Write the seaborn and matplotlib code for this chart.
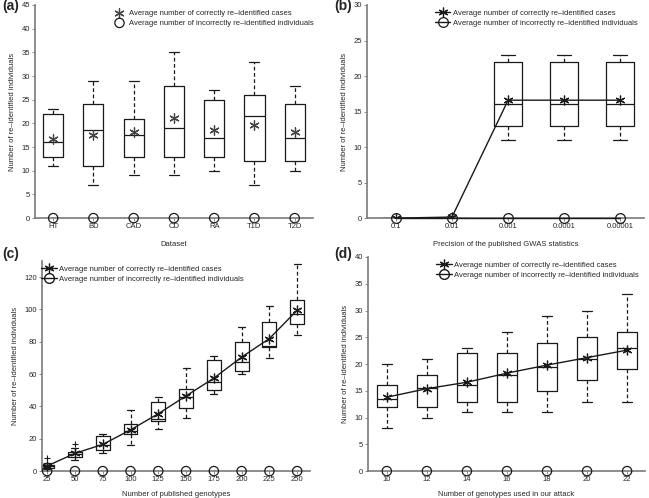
import numpy as np
import seaborn as sns
import matplotlib.pyplot as plt

sns.set_theme(style="ticks")
plt.rcParams['font.family'] = ['Liberation Sans', 'DejaVu Sans']

# (a) per dataset
a_labels = ['HT', 'BD', 'CAD', 'CD', 'RA', 'T1D', 'T2D']
a_whislo = [11, 7, 9, 9, 10, 7, 10]
a_q1 = [13, 11, 13, 13, 13, 12, 12]
a_med = [16, 18.5, 17.5, 19, 17, 21.5, 17]
a_q3 = [22, 24, 21, 28, 25, 26, 24]
a_whishi = [23, 29, 29, 35, 27, 33, 28]
a_mean = [16.7, 17.5, 18.1, 21.2, 18.6, 19.6, 18.1]
a_wrong = [0, 0, 0, 0, 0, 0, 0]

# (b) GWAS precision
b_labels = ['0.1', '0.01', '0.001', '0.0001', '0.00001']
b_whislo = [0, 0, 11, 11, 11]
b_q1 = [0, 0, 13, 13, 13]
b_med = [0, 0, 16, 16, 16]
b_q3 = [0, 0, 22, 22, 22]
b_whishi = [0, 0, 23, 23, 23]
b_mean = [0, 0.15, 16.6, 16.6, 16.6]
b_wrong = [0, 0, 0, 0, 0]

# (c) published genotypes
c_labels = ['25', '50', '75', '100', '125', '150', '175', '200', '225', '250']
c_whislo = [1, 7, 11, 16, 26, 33, 48, 60, 70, 84]
c_q1 = [2, 9, 13, 23, 31, 39, 50, 62, 77, 91]
c_med = [3, 10.5, 16, 25, 32, 46, 55, 67.5, 77.5, 97]
c_q3 = [4, 12, 22, 29, 43, 51, 69, 80, 92, 106]
c_whishi = [5, 14, 23, 38, 46, 64, 71, 89, 102, 128]
c_fliers = [[8], [17], [], [], [], [], [], [], [], []]
c_mean = [3.2, 11, 16.5, 25.5, 35.5, 46.5, 57.5, 70.5, 82, 99.5]
c_wrong = [0] * 10

# (d) genotypes used in attack
d_labels = ['10', '12', '14', '16', '18', '20', '22']
d_whislo = [8, 10, 11, 11, 11, 13, 13]
d_q1 = [12, 12, 13, 13, 15, 17, 19]
d_med = [13.5, 15.5, 16, 18, 19.5, 21, 23]
d_q3 = [16, 18, 22, 22, 24, 25, 26]
d_whishi = [20, 21, 23, 26, 29, 30, 33]
d_mean = [13.8, 15.4, 16.6, 18.3, 19.8, 21.2, 22.6]
d_wrong = [0] * 7

lbl_ok = 'Average number of correctly re\u2013identified cases'
lbl_bad = 'Average number of incorrectly re\u2013identified individuals'
ylab = 'Number of re\u2013identified individuals'
star = (6, 2, 0)
ink = '#1a1a1a'
spine_c = '#7a7a7a'


def boxes(ax, lo, q1, med, q3, hi, fliers=None):
    stats = []
    for i in range(len(lo)):
        stats.append(dict(whislo=lo[i], q1=q1[i], med=med[i], q3=q3[i], whishi=hi[i],
                          fliers=fliers[i] if fliers else []))
    ax.bxp(stats, positions=range(len(lo)), widths=0.5, showfliers=True,
           boxprops=dict(color=ink, lw=0.9),
           medianprops=dict(color=ink, lw=0.9),
           whiskerprops=dict(color=ink, lw=0.9, ls=(0, (3, 2))),
           capprops=dict(color=ink, lw=0.9),
           flierprops=dict(marker='+', markeredgecolor=ink, markersize=5, markeredgewidth=0.8))


def style(ax, labels, ymax, ystep, xlim, xlabel, pad):
    ax.set_xticks(range(len(labels)))
    ax.set_xticklabels(labels)
    ax.set_xlim(*xlim)
    ax.set_ylim(0, ymax)
    ax.set_yticks(np.arange(0, ymax + 0.1, ystep))
    sns.despine(ax=ax)
    for s in ('left', 'bottom'):
        ax.spines[s].set_color(spine_c)
        ax.spines[s].set_linewidth(1.2)
    ax.tick_params(labelsize=5.5, length=2, width=0.6, color=spine_c, pad=1.5)
    ax.set_xlabel(xlabel, fontsize=5.5, labelpad=pad)
    ax.set_ylabel(ylab, fontsize=5.5, labelpad=4)


fig = plt.figure(figsize=(6.49, 4.98), dpi=100)
ax_a = fig.add_axes([0.054, 0.562, 0.428, 0.428])
ax_b = fig.add_axes([0.565, 0.562, 0.428, 0.428])
ax_c = fig.add_axes([0.065, 0.054, 0.413, 0.422])
ax_d = fig.add_axes([0.567, 0.054, 0.427, 0.430])

# (a)
boxes(ax_a, a_whislo, a_q1, a_med, a_q3, a_whishi)
xa = np.arange(len(a_labels))
sns.scatterplot(x=xa, y=a_mean, ax=ax_a, marker=star, s=45, color='#444444', linewidth=0.9,
                label=lbl_ok, zorder=4)
sns.scatterplot(x=xa, y=a_wrong, ax=ax_a, marker='o', s=45, facecolor='none', edgecolor=ink,
                linewidth=0.9, label=lbl_bad, zorder=5, clip_on=False)
style(ax_a, a_labels, 45, 5, (-0.45, 6.45), 'Dataset', 8)

# (b)
boxes(ax_b, b_whislo, b_q1, b_med, b_q3, b_whishi)
xb = np.arange(len(b_labels))
sns.lineplot(x=xb, y=b_mean, ax=ax_b, color=ink, lw=1.0, marker=star, markersize=7,
             markeredgecolor=ink, markeredgewidth=0.9, label=lbl_ok, zorder=4)
sns.lineplot(x=xb, y=b_wrong, ax=ax_b, color=ink, lw=1.0, marker='o', markersize=7,
             markerfacecolor='none', markeredgecolor=ink, markeredgewidth=0.9,
             label=lbl_bad, zorder=5, clip_on=False)
style(ax_b, b_labels, 30, 5, (-0.52, 4.43), 'Precision of the published GWAS statistics', 8)

# (c)
boxes(ax_c, c_whislo, c_q1, c_med, c_q3, c_whishi, c_fliers)
xc = np.arange(len(c_labels))
sns.lineplot(x=xc, y=c_mean, ax=ax_c, color=ink, lw=1.0, marker=star, markersize=7,
             markeredgecolor=ink, markeredgewidth=0.9, label=lbl_ok, zorder=4)
sns.scatterplot(x=xc, y=c_wrong, ax=ax_c, marker='o', s=45, facecolor='none', edgecolor=ink,
                linewidth=0.9, zorder=5, clip_on=False)
ax_c.plot([], [], color=ink, lw=1.0, marker='o', markersize=7, markerfacecolor='none',
          markeredgecolor=ink, label=lbl_bad)
style(ax_c, c_labels, 130, 20, (-0.18, 9.47), 'Number of published genotypes', 6)

# (d)
boxes(ax_d, d_whislo, d_q1, d_med, d_q3, d_whishi)
xd = np.arange(len(d_labels))
sns.lineplot(x=xd, y=d_mean, ax=ax_d, color=ink, lw=1.0, marker=star, markersize=7,
             markeredgecolor=ink, markeredgewidth=0.9, label=lbl_ok, zorder=4)
sns.scatterplot(x=xd, y=d_wrong, ax=ax_d, marker='o', s=45, facecolor='none', edgecolor=ink,
                linewidth=0.9, zorder=5, clip_on=False)
ax_d.plot([], [], color=ink, lw=1.0, marker='o', markersize=7, markerfacecolor='none',
          markeredgecolor=ink, label=lbl_bad)
style(ax_d, d_labels, 40, 5, (-0.47, 6.45), 'Number of genotypes used in our attack', 6)

legend_pos = {ax_a: (0.26, 1.0), ax_b: (0.23, 1.0), ax_c: (-0.02, 1.0), ax_d: (0.23, 1.0)}
for ax, (lx, ly) in legend_pos.items():
    ax.legend(loc='upper left', bbox_to_anchor=(lx, ly), frameon=False, fontsize=5.5,
              handlelength=2.0, handletextpad=0.3, labelspacing=0.35, borderaxespad=0.2)

# panel tags
for tx, ty, tag in [(0.003, 0.988, '(a)'), (0.515, 0.988, '(b)'),
                    (0.003, 0.49, '(c)'), (0.515, 0.49, '(d)')]:
    fig.text(tx, ty, tag, fontsize=10, fontweight='bold', ha='left', va='center')

fig.savefig('out.png', dpi=100)
